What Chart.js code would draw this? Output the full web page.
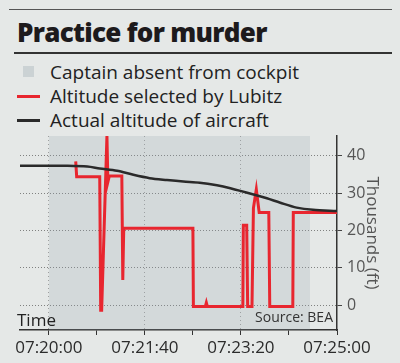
<!DOCTYPE html>
<html>
<head>
<meta charset="utf-8">
<script src="https://cdn.jsdelivr.net/npm/chart.js@4"></script>
<style>
  html, body { margin: 0; padding: 0; }
  body {
    width: 400px; height: 363px; overflow: hidden; position: relative;
    background: #e5e8e7; font-family: "Open Sans", sans-serif; color: #222;
  }
  .rule-top { position: absolute; left: 9px; right: 8px; top: 9px; height: 1px; background: #555; }
  .rule-mid { position: absolute; left: 14px; right: 8px; top: 52px; height: 2px; background: #333; }
  .title {
    position: absolute; left: 17px; top: 18px; font-size: 26px; line-height: 28px;
    font-weight: 800; letter-spacing: -0.7px; color: #1d1a1c;
  }
  .legend { position: absolute; left: 0; top: 60px; }
  .row { position: relative; height: 24px; line-height: 24px; font-size: 19px; padding-left: 50px; color: #222; }
  .sw-box { position: absolute; left: 23px; top: 6px; width: 11px; height: 11px; background: #cbd2d4; }
  .sw-line { position: absolute; left: 17px; top: 11px; width: 23px; height: 3px; }
  #chart { position: absolute; left: 0; top: 120px; }
  .time { position: absolute; left: 17px; top: 310px; font-size: 17px; line-height: 20px; color: #222; z-index: 2; }
  .source { position: absolute; right: 67px; top: 309px; font-size: 14px; line-height: 16px; color: #333; z-index: 2; }
</style>
</head>
<body>
<div class="rule-top"></div>
<div class="title">Practice for murder</div>
<div class="rule-mid"></div>
<div class="legend">
  <div class="row"><span class="sw-box"></span>Captain absent from cockpit</div>
  <div class="row"><span class="sw-line" style="background:#e8262f"></span>Altitude selected by Lubitz</div>
  <div class="row"><span class="sw-line" style="background:#2a2a2a"></span>Actual altitude of aircraft</div>
</div>
<canvas id="chart" width="400" height="243"></canvas>
<div class="time">Time</div>
<div class="source">Source: BEA</div>
<script>
// seconds after 07:20:00, altitude in thousands of feet
const absentTime = [0, 272];

const selectedTime = [28, 29, 53, 54, 55, 60.5, 61.5, 63, 76, 77, 78, 150, 150.5, 163, 164, 165, 202, 202.5, 206, 207, 211.5, 213, 216, 219, 229, 230, 254, 254.5, 300];
const selectedAlt  = [38.5, 34.4, 34.4, -1.4, -1.4, 45.3, 33, 34.6, 34.6, 6.7, 20.6, 20.6, -0.4, -0.4, 0.6, -0.4, -0.4, 21.4, 21.4, -0.4, -0.4, 26, 31, 24.8, 24.8, -0.4, -0.4, 24.8, 24.8];

const actualTime = [-30, 0, 18, 40, 53, 71, 88, 105, 123, 140, 157, 175, 189, 215, 227, 241, 258, 275, 300];
const actualAlt  = [37.3, 37.3, 37.3, 37.1, 36.6, 36.0, 34.9, 34.0, 33.5, 33.1, 32.8, 32.1, 31.3, 29.5, 28.6, 27.4, 26.1, 25.5, 25.2];

const xTicks = [0, 50, 100, 150, 200, 250, 300];
const yTicks = [0, 10, 20, 30, 40];

const xMin = -30, xMax = 300;
const yMin = -6.7, yMax = 45.3;

function clock(sec) {
  const t = 7 * 3600 + 20 * 60 + sec;
  const pad = n => String(n).padStart(2, '0');
  return pad(Math.floor(t / 3600)) + ':' + pad(Math.floor(t / 60) % 60) + ':' + pad(t % 60);
}

const pts = (xs, ys) => xs.map((x, i) => ({ x: x, y: ys[i] }));

const ctx = document.getElementById('chart').getContext('2d');
new Chart(ctx, {
  type: 'line',
  data: {
    datasets: [
      {
        label: 'Actual altitude of aircraft',
        data: pts(actualTime, actualAlt),
        borderColor: '#2a2a2a',
        borderWidth: 2.5,
        pointRadius: 0,
        tension: 0.3,
        fill: false,
      },
      {
        label: 'Altitude selected by Lubitz',
        data: pts(selectedTime, selectedAlt),
        borderColor: '#e8262f',
        borderWidth: 3,
        pointRadius: 0,
        tension: 0,
        fill: false,
        borderJoinStyle: 'miter',
      },
      {
        label: 'Captain absent from cockpit',
        data: absentTime.map(x => ({ x: x, y: yMax })),
        borderWidth: 0,
        borderColor: 'transparent',
        backgroundColor: 'rgba(150,165,172,0.22)',
        pointRadius: 0,
        fill: 'start',
      },
    ],
  },
  options: {
    responsive: false,
    devicePixelRatio: 1,
    animation: false,
    layout: { padding: { left: 20, top: 16, right: 0, bottom: 0 } },
    plugins: { legend: { display: false }, tooltip: { enabled: false } },
    scales: {
      x: {
        type: 'linear',
        min: xMin,
        max: xMax,
        afterBuildTicks: s => { s.ticks = xTicks.map(v => ({ value: v })); },
        afterFit: s => { s.height = 33; },
        ticks: {
          autoSkip: false,
          maxRotation: 0,
          padding: 3,
          color: '#2b2b2b',
          font: { family: 'Open Sans', size: 17 },
          callback: v => (v % 100 === 0 ? clock(v) : ''),
        },
        grid: {
          color: c => (c.tick && c.tick.value % 100 === 0 && c.tick.value < 300 ? 'rgba(70,70,70,0.45)' : 'transparent'),
          tickColor: '#333',
          tickLength: 5,
          tickWidth: 1,
        },
        border: { color: '#333', width: 1.5, dash: [1, 3] },
      },
      y: {
        position: 'right',
        min: yMin,
        max: yMax,
        afterBuildTicks: s => { s.ticks = yTicks.map(v => ({ value: v })); },
        afterFit: s => { s.width = 63; },
        ticks: {
          padding: 5,
          color: '#555',
          font: { family: 'Open Sans', size: 16 },
        },
        grid: {
          color: 'rgba(60,60,60,0.6)',
          tickColor: '#444',
          tickLength: 5,
          tickWidth: 1,
        },
        border: { color: '#333', width: 1.5, dash: [1, 2] },
        title: {
          display: true,
          text: 'Thousands (ft)',
          color: '#555',
          font: { family: 'Open Sans', size: 17 },
          padding: { top: 18, bottom: 0 },
        },
      },
    },
  },
});
</script>
</body>
</html>
